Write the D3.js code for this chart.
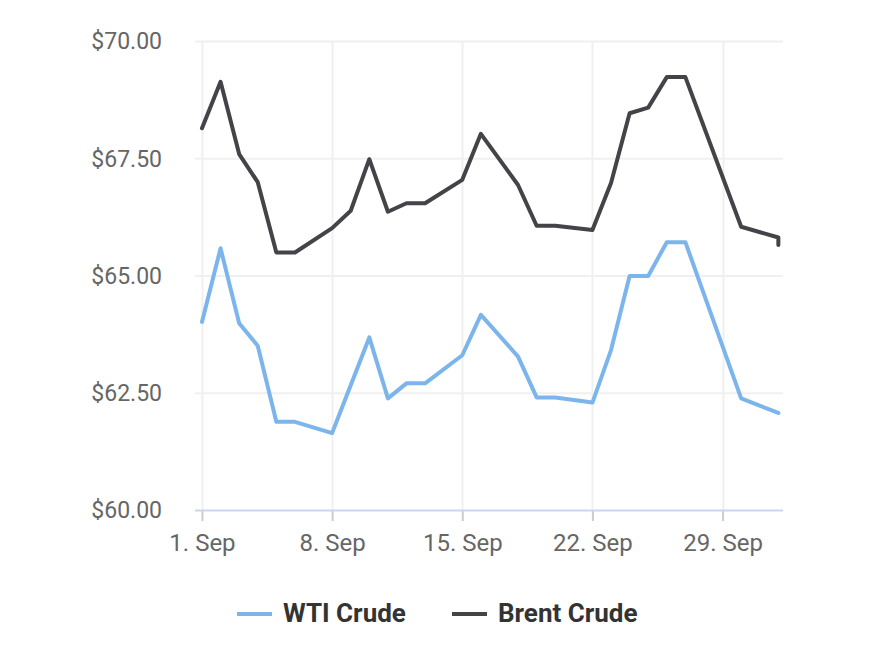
<!DOCTYPE html>
<html><head><meta charset="utf-8">
<script src="https://cdn.jsdelivr.net/npm/d3@7"></script>
<style>html,body{margin:0;padding:0;background:#fff;}svg{display:block;font-family:Roboto,"Noto Sans",sans-serif;}</style>
</head><body>
<svg id="chart" width="874" height="648"></svg>
<script>
const dates = ["2023-09-01","2023-09-02","2023-09-03","2023-09-04","2023-09-05","2023-09-06","2023-09-08","2023-09-09","2023-09-10","2023-09-11","2023-09-12","2023-09-13","2023-09-15","2023-09-16","2023-09-18","2023-09-19","2023-09-20","2023-09-22","2023-09-23","2023-09-24","2023-09-25","2023-09-26","2023-09-27","2023-09-30","2023-10-02","2023-10-02"];
const wti   = [64.01,65.58,63.98,63.50,61.88,61.88,61.64,62.66,63.68,62.38,62.70,62.70,63.30,64.16,63.27,62.40,62.40,62.29,63.41,64.99,64.99,65.71,65.71,62.38,62.07,62.07];
const brent = [68.14,69.13,67.59,66.99,65.49,65.49,66.01,66.38,67.48,66.36,66.54,66.54,67.04,68.02,66.93,66.06,66.06,65.97,66.97,68.46,68.58,69.23,69.23,66.04,65.81,65.65];
const seriesNames = ["WTI Crude","Brent Crude"];
const seriesColors = ["#7cb5ec","#434348"];
const yTicks = [60,62.5,65,67.5,70];
const xTickDates = ["2023-09-01","2023-09-08","2023-09-15","2023-09-22","2023-09-29"];

const svg = d3.select("#chart");
const parse = d3.utcParse("%Y-%m-%d");
const ds = dates.map(parse);
const plot = {left:195, right:783, top:41, bottom:510};

const x = d3.scaleUtc()
  .domain([d3.utcHour.offset(parse("2023-09-01"), -9), d3.utcHour.offset(parse("2023-10-02"), 6)])
  .range([plot.left, plot.right]);
const y = d3.scaleLinear().domain([60,70]).range([plot.bottom, plot.top]);

// horizontal grid
svg.append("g").selectAll("line").data(yTicks.filter(v=>v>60)).join("line")
  .attr("x1", plot.left).attr("x2", plot.right)
  .attr("y1", d=>y(d)+0.5).attr("y2", d=>y(d)+0.5)
  .attr("stroke","#f0f0f0").attr("stroke-width",2);
// vertical grid
const xt = xTickDates.map(parse);
svg.append("g").selectAll("line").data(xt).join("line")
  .attr("x1", d=>Math.round(x(d))+0.5).attr("x2", d=>Math.round(x(d))+0.5)
  .attr("y1", plot.top).attr("y2", plot.bottom)
  .attr("stroke","#f0f0f0").attr("stroke-width",2);

// y labels
svg.append("g").selectAll("text").data(yTicks).join("text")
  .attr("x", 162).attr("y", d=>y(d)).attr("dy","0.36em")
  .attr("text-anchor","end").attr("fill","#666").attr("font-size","23px")
  .text(d=>"$"+d.toFixed(2));

// x axis
const xAxis = d3.axisBottom(x).tickValues(xt).tickSize(11).tickPadding(0).tickFormat(d=>d3.utcFormat("%-d. %b")(d));
const gx = svg.append("g").attr("transform",`translate(0,${plot.bottom})`).call(xAxis);
gx.select(".domain").remove();
gx.selectAll(".tick line").attr("stroke","#ccc").attr("stroke-width",2);
gx.selectAll(".tick text").attr("fill","#666").attr("font-size","24px").attr("font-family","Roboto")
  .attr("y",41).attr("dy",null);
svg.append("line").attr("x1",plot.left).attr("x2",plot.right)
  .attr("y1",plot.bottom+0.5).attr("y2",plot.bottom+0.5)
  .attr("stroke","#ccd6eb").attr("stroke-width",2);

// lines
const line = d3.line().x((d,i)=>x(ds[i])).y(d=>y(d));
[wti,brent].forEach((s,k)=>{
  svg.append("path").attr("d", line(s)).attr("fill","none")
    .attr("stroke", seriesColors[k]).attr("stroke-width",4)
    .attr("stroke-linejoin","round").attr("stroke-linecap","round");
});

// legend
const lx = [237, 452];
seriesNames.forEach((n,k)=>{
  const g = svg.append("g");
  g.append("line").attr("x1",lx[k]).attr("x2",lx[k]+35).attr("y1",614).attr("y2",614)
    .attr("stroke",seriesColors[k]).attr("stroke-width",4);
  g.append("text").attr("x",lx[k]+46).attr("y",613).attr("dy","0.36em")
    .attr("fill","#333").attr("font-weight","bold").attr("font-size","26px").text(n);
});
</script>
</body></html>
